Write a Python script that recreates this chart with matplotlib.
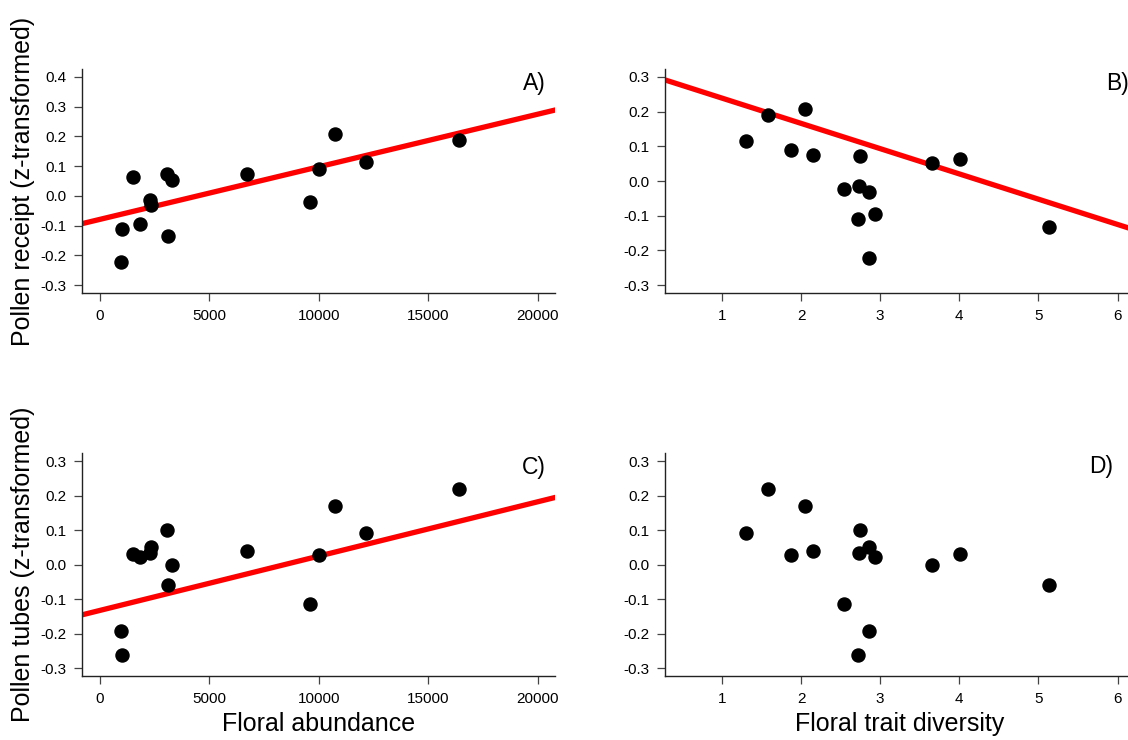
import numpy as np
import matplotlib
matplotlib.use("Agg")
import matplotlib.pyplot as plt

plt.rcParams['font.family'] = ['Liberation Sans', 'DejaVu Sans']

# one value per site
floral_abundance = [1002, 970, 1495, 1808, 2284, 2317, 3073, 3270, 3090, 6721,
                    9614, 10025, 10715, 12161, 16401]
trait_diversity = [2.715, 2.864, 4.014, 2.936, 2.728, 2.864, 2.742, 3.658, 5.134, 2.146,
                   2.543, 1.875, 2.047, 1.302, 1.582]
pollen_receipt = [-0.110, -0.221, 0.064, -0.095, -0.013, -0.032, 0.073, 0.053, -0.134, 0.075,
                  -0.022, 0.089, 0.207, 0.114, 0.189]
pollen_tubes = [-0.262, -0.193, 0.031, 0.023, 0.032, 0.050, 0.100, -0.002, -0.058, 0.039,
                -0.114, 0.028, 0.169, 0.090, 0.220]

# fitted lines (intercept, slope); None = no significant fit
fit_A = (-0.079, 1.77e-5)
fit_B = (0.312, -0.0729)
fit_C = (-0.133, 1.575e-5)
fit_D = None

abund_ticks = [0, 5000, 10000, 15000, 20000]
div_ticks = [1, 2, 3, 4, 5, 6]


def r_lim(lo, hi):
    # R style 4% padding
    d = (hi - lo) * 0.04
    return lo - d, hi + d


fig = plt.figure(figsize=(11.28, 7.4), dpi=100)

# [left, bottom, width, height] in figure fractions
pos = {
    'A': [0.0731, 0.6036, 0.4193, 0.3036],
    'B': [0.5895, 0.6036, 0.4167, 0.3036],
    'C': [0.0731, 0.0861, 0.4193, 0.3021],
    'D': [0.5895, 0.0861, 0.4167, 0.3021],
}
# where the panel letter sits (axes fraction)
letter_pos = {'A': (0.955, 0.934), 'B': (0.962, 0.934),
              'C': (0.955, 0.936), 'D': (0.928, 0.94)}

panels = [
    ('A', floral_abundance, pollen_receipt, fit_A, (0, 20000), (-0.3, 0.4), abund_ticks),
    ('B', trait_diversity, pollen_receipt, fit_B, (0.5, 6), (-0.3, 0.3), div_ticks),
    ('C', floral_abundance, pollen_tubes, fit_C, (0, 20000), (-0.3, 0.3), abund_ticks),
    ('D', trait_diversity, pollen_tubes, fit_D, (0.5, 6), (-0.3, 0.3), div_ticks),
]

for name, x, y, fit, xl, yl, xt in panels:
    ax = fig.add_axes(pos[name])
    ax.plot(x, y, 'o', color='black', markersize=9.4, zorder=3)
    if fit is not None:
        ax.axline((0, fit[0]), slope=fit[1], color='red', lw=3.8, zorder=2)
    ax.set_xlim(*r_lim(*xl))
    ax.set_ylim(*r_lim(*yl))
    ax.set_xticks(xt)
    ax.set_yticks(np.round(np.arange(yl[0], yl[1] + 0.001, 0.1), 1))
    ax.yaxis.set_major_formatter(matplotlib.ticker.FormatStrFormatter('%.1f'))
    for s in ['top', 'right']:
        ax.spines[s].set_visible(False)
    for s in ['left', 'bottom']:
        ax.spines[s].set_color('#222222')
        ax.spines[s].set_linewidth(1.0)
    ax.tick_params(direction='out', length=5.8, width=0.9, color='#444444',
                   labelsize=11, pad=5.5)
    lx, ly = letter_pos[name]
    ax.text(lx, ly, name + ')', transform=ax.transAxes, fontsize=16.5,
            ha='center', va='center')

    if name in ('A', 'C'):
        ax.set_ylabel('Pollen receipt (z-transformed)' if name == 'A'
                      else 'Pollen tubes (z-transformed)', fontsize=18)
        ax.yaxis.set_label_coords(-0.100, 0.5)
    if name in ('C', 'D'):
        ax.set_xlabel('Floral abundance' if name == 'C'
                      else 'Floral trait diversity', fontsize=18, labelpad=4)

fig.savefig('out.png', dpi=100)
